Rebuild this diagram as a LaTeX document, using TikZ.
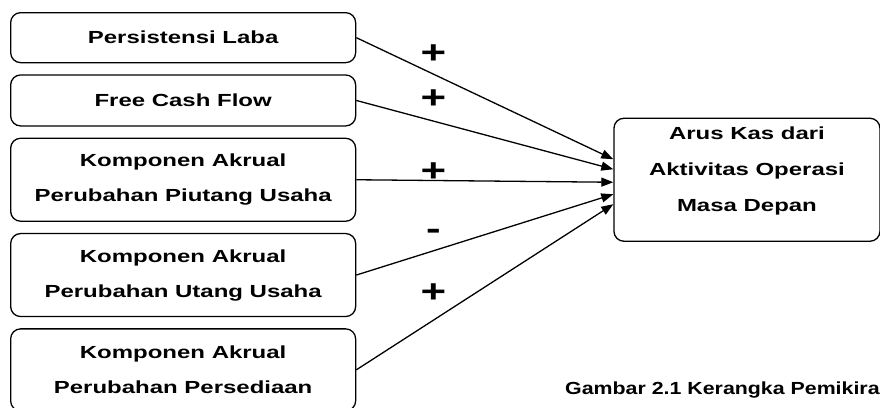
\documentclass[tikz,border=0pt]{standalone}
\usepackage{fontspec}
\newfontfamily\boxfont[FakeStretch=1.37]{Liberation Sans}
\newfontfamily\captfont[FakeStretch=1.22]{Liberation Sans}
\usetikzlibrary{positioning,arrows.meta}

\begin{document}
\begin{tikzpicture}[x=1pt, y=-1pt,
    >={Triangle[length=12pt, width=9pt]},
    box/.style={draw, rounded corners=10pt, line width=1.3pt, minimum width=345pt, minimum height=#1,
                inner sep=0pt, align=center, font=\boxfont\bfseries\fontsize{17.5}{35}\selectfont},
    box/.default=50pt,
    arr/.style={->, line width=1.3pt},
    sign/.style={font=\boxfont\bfseries\fontsize{32}{32}\selectfont, inner sep=0pt},
]

% fixed frame
\useasboundingbox (0,0) rectangle (880,407);

% --- Variabel independen ---
\node[box, anchor=north west] (laba) at (10,12) {Persistensi Laba};
\node[box=51pt, below=11pt of laba] (fcf) {Free Cash Flow};
\node[box=83pt, below=11pt of fcf] (piutang) {Komponen Akrual\\Perubahan Piutang Usaha};
\node[box=83pt, below=11pt of piutang] (utang) {Komponen Akrual\\Perubahan Utang Usaha};
\node[box=82pt, below=11pt of utang] (sedia) {Komponen Akrual\\Perubahan Persediaan};

% --- Variabel dependen ---
\node[box=123pt, minimum width=266pt, right=257pt of piutang, text depth=21.5pt,
      font=\boxfont\bfseries\fontsize{17.5}{36}\selectfont] (arus) {Arus Kas dari\\Aktivitas Operasi\\Masa Depan};

% --- Arrows ---
\draw[arr] (laba.east) -- ([yshift=20.5pt]arus.west) node[sign, pos=0.3, yshift=20pt] {+};
\draw[arr] (fcf.east) -- ([yshift=10.5pt]arus.west) node[sign, pos=0.3, yshift=22pt] {+};
\draw[arr] (piutang.east) -- ([yshift=-2.5pt]arus.west) node[sign, pos=0.3, yshift=8pt] {+};
\draw[arr] (utang.east) -- ([yshift=-14.5pt]arus.west) node[sign, pos=0.3, yshift=16pt] {-};
\draw[arr] (sedia.east) -- ([yshift=-24.5pt]arus.west) node[sign, pos=0.3, yshift=27pt] {+};

% caption
\node[font=\captfont\bfseries\fontsize{17.5}{21}\selectfont, anchor=base west, inner sep=0pt] (judul)
  at (565,394) {Gambar 2.1 Kerangka Pemikira};

\end{tikzpicture}
\end{document}
